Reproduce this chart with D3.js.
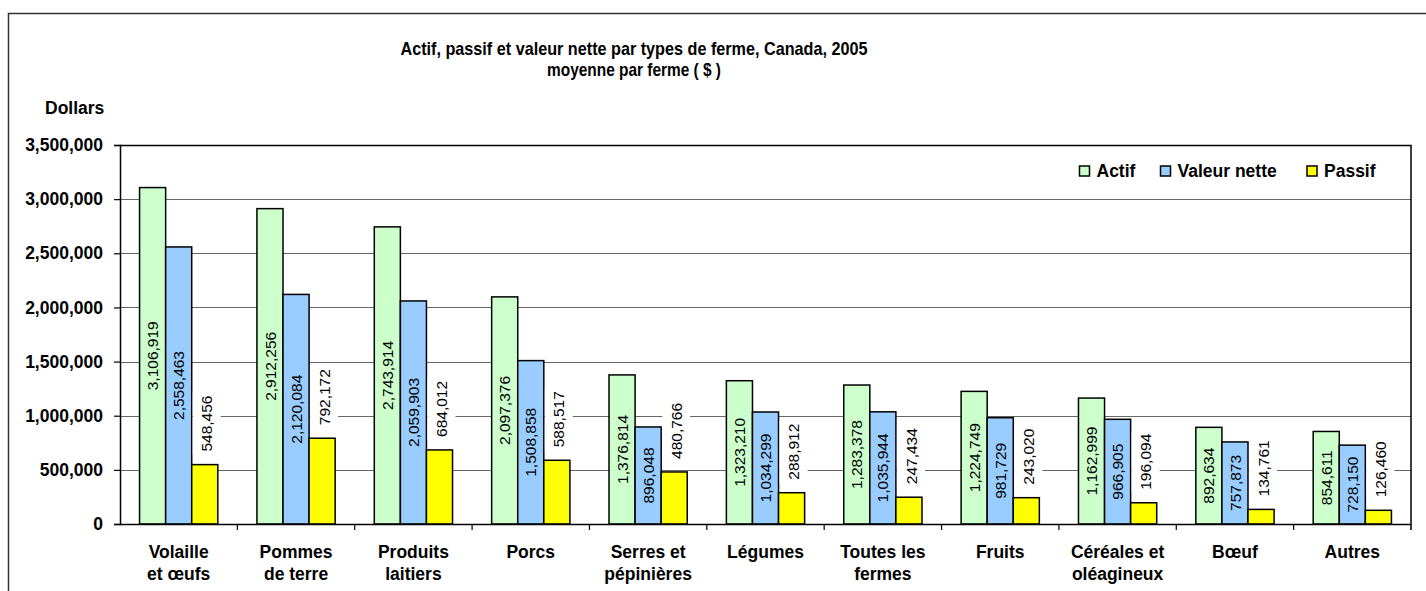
<!DOCTYPE html>
<html>
<head>
<meta charset="utf-8" />
<title>Actif, passif et valeur nette par types de ferme</title>
<script src="https://d3js.org/d3.v7.min.js"></script>
<style>
  body { margin: 0; background: #fff; }
  svg text { font-family: Arial, "Liberation Sans", sans-serif; fill: #000; }
  .bold { font-weight: bold; }
</style>
</head>
<body>
<svg id="chart"></svg>
<script>
// data
var categories = ["Volaille|et œufs", "Pommes|de terre", "Produits|laitiers", "Porcs",
  "Serres et|pépinières", "Légumes", "Toutes les|fermes", "Fruits",
  "Céréales et|oléagineux", "Bœuf", "Autres"];
var seriesNames = ["Actif", "Valeur nette", "Passif"];
var actif = [3106919, 2912256, 2743914, 2097376, 1376814, 1323210, 1283378, 1224749, 1162999, 892634, 854611];
var valeurNette = [2558463, 2120084, 2059903, 1508858, 896048, 1034299, 1035944, 981729, 966905, 757873, 728150];
var passif = [548456, 792172, 684012, 588517, 480766, 288912, 247434, 243020, 196094, 134761, 126460];
var yTicks = [0, 500000, 1000000, 1500000, 2000000, 2500000, 3000000, 3500000];
var colors = ["#CCFFCC", "#99CCFF", "#FFFF00"];

var width = 1426, height = 591;
var plot = {left: 120, right: 1411, top: 145, bottom: 524};

var svg = d3.select("#chart").attr("width", width).attr("height", height);

// outer frame (runs off the right and bottom edges)
svg.append("rect")
  .attr("x", 8.5).attr("y", 13.5)
  .attr("width", 1440).attr("height", 620)
  .attr("fill", "#fff").attr("stroke", "#333").attr("stroke-width", 1.5);

// title (narrow bold face in the original, so squeeze it to width)
svg.append("text").attr("class", "bold")
  .attr("x", 634).attr("y", 54.5).attr("text-anchor", "middle")
  .attr("font-size", 18.5)
  .attr("textLength", 467).attr("lengthAdjust", "spacingAndGlyphs")
  .text("Actif, passif et valeur nette par types de ferme, Canada, 2005");
svg.append("text").attr("class", "bold")
  .attr("x", 634).attr("y", 75.5).attr("text-anchor", "middle")
  .attr("font-size", 18.5)
  .attr("textLength", 174).attr("lengthAdjust", "spacingAndGlyphs")
  .text("moyenne par ferme ( $ )");

svg.append("text").attr("class", "bold")
  .attr("x", 45).attr("y", 114).attr("font-size", 17.5)
  .text("Dollars");

// scales
var y = d3.scaleLinear().domain([0, 3500000]).range([plot.bottom, plot.top]);
var x0 = d3.scaleBand().domain(categories).range([plot.left, plot.right]);
var bw = x0.bandwidth();
var x1 = d3.scaleBand().domain(seriesNames)
  .range([bw * 0.75 / 4.5, bw * 3.75 / 4.5]);

// gridlines
svg.append("g").selectAll("line")
  .data(yTicks.filter(function(d) { return d > 0; }))
  .join("line")
  .attr("x1", plot.left).attr("x2", plot.right)
  .attr("y1", function(d) { return Math.round(y(d)) + 0.5; })
  .attr("y2", function(d) { return Math.round(y(d)) + 0.5; })
  .attr("stroke", "#666").attr("stroke-width", 1);

// top and right border of plot area
svg.append("path")
  .attr("d", "M" + plot.left + "," + (plot.top + 0.5) + "H" + plot.right + "V" + (plot.bottom + 6))
  .attr("fill", "none").attr("stroke", "#000").attr("stroke-width", 1.5);

// rows of data for binding
var rows = categories.map(function(c, i) {
  return {cat: c, values: [actif[i], valeurNette[i], passif[i]]};
});

var groups = svg.append("g").selectAll("g")
  .data(rows).join("g")
  .attr("transform", function(d) { return "translate(" + x0(d.cat) + ",0)"; });

groups.selectAll("rect")
  .data(function(d) { return d.values.map(function(v, k) { return {k: k, v: v}; }); })
  .join("rect")
  .attr("x", function(d) { return x1(seriesNames[d.k]); })
  .attr("width", x1.bandwidth())
  .attr("y", function(d) { return y(d.v); })
  .attr("height", function(d) { return plot.bottom - y(d.v); })
  .attr("fill", function(d) { return colors[d.k]; })
  .attr("stroke", "#000").attr("stroke-width", 1.5);

// value labels: centred for Actif / Valeur nette, above the bar for Passif
var fmt = d3.format(",");
groups.each(function(d) {
  var g = d3.select(this);
  d.values.forEach(function(v, k) {
    var cx = x1(seriesNames[k]) + x1.bandwidth() / 2;
    if (k < 2) {
      var cy = (y(v) + plot.bottom) / 2;
      g.append("text")
        .attr("transform", "translate(" + cx + "," + cy + ") rotate(-90)")
        .attr("text-anchor", "middle").attr("dy", "0.36em")
        .attr("font-size", 15.5)
        .text(fmt(v));
    } else {
      var lg = g.append("g")
        .attr("transform", "translate(" + (cx + 2) + "," + (y(v) - 13) + ") rotate(-90)");
      var bg = lg.append("rect").attr("fill", "#fff");
      var t = lg.append("text")
        .attr("text-anchor", "start").attr("dy", "0.36em")
        .attr("font-size", 15.5)
        .text(fmt(v));
      var len = t.node().getComputedTextLength();
      bg.attr("x", -3).attr("y", -14).attr("width", len + 6).attr("height", 28);
    }
  });
});

// y axis
var yAxis = d3.axisLeft(y).tickValues(yTicks).tickSize(6).tickPadding(11)
  .tickFormat(fmt);
var gy = svg.append("g")
  .attr("transform", "translate(" + plot.left + ",0)")
  .call(yAxis);
gy.select(".domain").attr("stroke", "#000").attr("stroke-width", 1.5);
gy.selectAll(".tick line").attr("stroke", "#000").attr("stroke-width", 1.2);
gy.selectAll(".tick text")
  .attr("font-size", 17.5).attr("font-weight", "bold")
  .attr("font-family", "Arial, 'Liberation Sans', sans-serif").attr("fill", "#000");

// x axis baseline and category ticks
svg.append("line")
  .attr("x1", plot.left).attr("x2", plot.right)
  .attr("y1", plot.bottom + 0.5).attr("y2", plot.bottom + 0.5)
  .attr("stroke", "#000").attr("stroke-width", 1.5);
svg.append("g").selectAll("line")
  .data(categories.slice(1))
  .join("line")
  .attr("x1", function(c) { return x0(c); })
  .attr("x2", function(c) { return x0(c); })
  .attr("y1", plot.bottom).attr("y2", plot.bottom + 6)
  .attr("stroke", "#000").attr("stroke-width", 1.2);

// category labels
svg.append("g").selectAll("text")
  .data(categories).join("text")
  .attr("class", "bold")
  .attr("font-size", 17.5)
  .attr("text-anchor", "middle")
  .attr("x", function(c) { return x0(c) + bw / 2; })
  .attr("y", 558)
  .each(function(c) {
    var lines = c.split("|");
    var t = d3.select(this);
    lines.forEach(function(line, i) {
      t.append("tspan")
        .attr("x", x0(c) + bw / 2)
        .attr("dy", i === 0 ? 0 : 22)
        .text(line);
    });
  });

// legend
var legendX = [1079.5, 1160.5, 1307];
var legend = svg.append("g").selectAll("g")
  .data(seriesNames).join("g")
  .attr("transform", function(d, i) { return "translate(" + legendX[i] + ",166)"; });
legend.append("rect")
  .attr("width", 10).attr("height", 10)
  .attr("fill", function(d, i) { return colors[i]; })
  .attr("stroke", "#000").attr("stroke-width", 1.5);
legend.append("text").attr("class", "bold")
  .attr("x", 17).attr("y", 10.5)
  .attr("font-size", 17.5)
  .text(function(d) { return d; });
</script>
</body>
</html>
